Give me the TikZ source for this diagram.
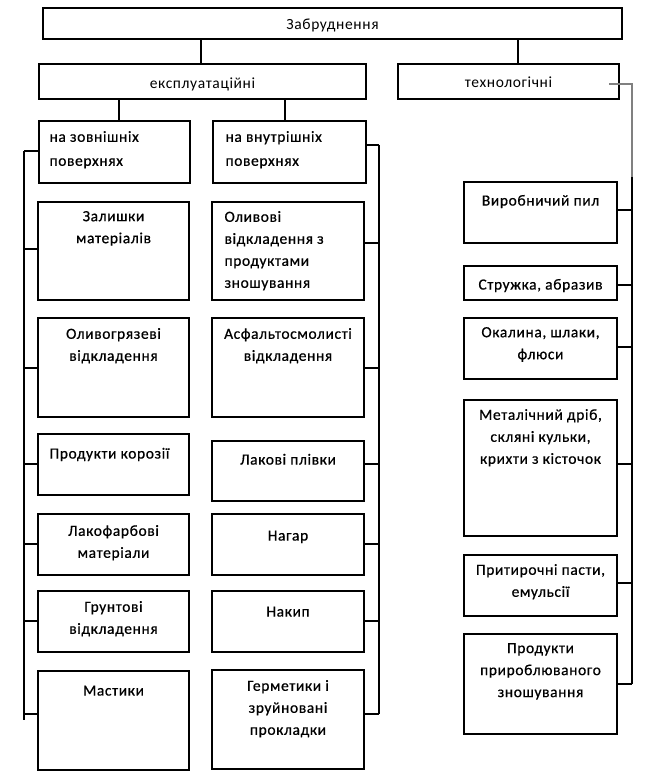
\documentclass[tikz,border=0pt]{standalone}
\usepackage{fontspec}
\setmainfont{Carlito}[LetterSpace=4.0]
\newfontfamily\boxfont{Carlito}[LetterSpace=4.0,FakeBold=0.6]
\newcommand\mkbox[5]{%
  \node[boxst, minimum width={(#4-#2)*1pt}, minimum height={(#5-#3)*1pt}] (#1) at ({(#2+#4)/2},{(#3+#5)/2}) {};}
\newcommand\cbox[7]{\mkbox{#1}{#2}{#3}{#4}{#5}%
  \node[txt, align=center, anchor=north] (#1t) at ({(#2+#4)/2},#6+2) {#7};}
\newcommand\lbox[8]{\mkbox{#1}{#2}{#3}{#4}{#5}%
  \node[txt, align=left, anchor=north west] (#1t) at (#6,#7+2) {#8};}
\newcommand\headbox[7]{\mkbox{#1}{#2}{#3}{#4}{#5}%
  \node[htxt, align=center, anchor=north] (#1t) at ({(#2+#4)/2},#6) {#7};}
\begin{document}
\begin{tikzpicture}[x=1pt,y=-1pt,line width=1.1pt,
  boxst/.style={draw, rectangle, inner sep=0pt, outer sep=0pt},
  txt/.style={inner sep=0pt, font=\boxfont\fontsize{15.5}{22}\selectfont, execute at begin node=\strut},
  htxt/.style={inner sep=0pt, font=\fontsize{15.5}{22}\selectfont, execute at begin node=\strut},
  conn/.style={draw, line width=1.1pt},
  greyconn/.style={draw, line width=1.1pt, color=gray}]
\useasboundingbox (0,0) rectangle (669,775);

\headbox{top}{43}{8}{622}{39}{14.0}{Забруднення}
\headbox{eksp}{39}{64}{366}{99}{72.6}{експлуатаційні}
\headbox{tech}{398}{64}{619}{99}{71.6}{технологічні}

\lbox{zovn}{39}{121}{190}{183}{49}{128.6}{на зовнішніх\\[2pt]поверхнях}
\lbox{vnut}{213}{121}{366}{183}{225}{128.6}{на внутрішніх\\[2pt]поверхнях}

\cbox{zal}{38}{202}{189}{300}{208.6}{Залишки\\матеріалів}
\lbox{oliv}{212}{202}{364}{300}{224}{208.6}{Оливові\\відкладення з\\продуктами\\зношування}
\cbox{olgr}{38}{318}{189}{417}{325.6}{Оливогрязеві\\відкладення}
\cbox{asf}{212}{318}{364}{417}{325.6}{Асфальтосмолисті\\відкладення}
\lbox{koroz}{38}{434}{189}{495}{49}{440.6}{Продукти корозії}
\cbox{lak}{212}{441}{364}{501}{446.6}{Лакові плівки}
\cbox{lakf}{38}{514}{189}{575}{522.6}{Лакофарбові\\матеріали}
\cbox{nagar}{212}{514}{364}{575}{522.6}{Нагар}
\cbox{grunt}{38}{591}{189}{652}{598.6}{Грунтові\\відкладення}
\cbox{nakyp}{212}{591}{364}{652}{598.6}{Накип}
\cbox{mast}{38}{671}{189}{770}{677.6}{Мастики}
\cbox{herm}{212}{670}{364}{769}{677.6}{Герметики і\\зруйновані\\прокладки}

\cbox{pyl}{464}{182}{617}{243}{187.6}{Виробничий пил}
\cbox{struzh}{464}{266}{617}{300}{271.6}{Стружка, абразив}
\cbox{okal}{464}{318}{617}{379}{324.6}{Окалина, шлаки,\\флюси}
\cbox{metal}{464}{400}{617}{536}{406.6}{Металічний дріб,\\скляні кульки,\\крихти з кісточок}
\cbox{pasty}{464}{555}{617}{616}{561.6}{Притирочні пасти,\\емульсії}
\cbox{prirob}{464}{634}{617}{734}{640.6}{Продукти\\прироблюваного\\зношування}

% top connectors
\coordinate (a1) at (201,39);
\coordinate (a2) at (518,39);
\draw[conn] (a1) -- (a1 |- eksp.north);
\draw[conn] (a2) -- (a2 |- tech.north);
\coordinate (b1) at (119,99);
\coordinate (b2) at (285,99);
\draw[conn] (b1) -- (b1 |- zovn.north);
\draw[conn] (b2) -- (b2 |- vnut.north);

% left bus
\coordinate (LB0) at (24,151);
\coordinate (LB1) at (24,720);
\draw[conn] (LB0) -- (LB1);
\foreach \yy/\nn in {151/zovn,249/zal,368/olgr,464/koroz,544/lakf,621/grunt,714/mast}{
  \coordinate (s) at (24,\yy);
  \draw[conn] (s) -- (s -| \nn.west);
}
% right bus
\coordinate (RB0) at (379,145);
\coordinate (RB1) at (379,714);
\draw[conn] (RB0) -- (RB1);
\foreach \yy/\nn in {145/vnut,243/oliv,368/asf,464/lak,544/nagar,621/nakyp,714/herm}{
  \coordinate (s) at (379,\yy);
  \draw[conn] (s) -- (s -| \nn.east);
}
% technological bus
\coordinate (T0) at (609,84);
\coordinate (T1) at (632,84);
\coordinate (T2) at (632,177);
\coordinate (T3) at (632,684);
\draw[greyconn] (T0) -- (T1) -- (T2);
\draw[conn] (T2) -- (T3);
\foreach \yy/\nn in {210/pyl,285/struzh,347/okal,464/metal,583/pasty,684/prirob}{
  \coordinate (s) at (632,\yy);
  \draw[conn] (s) -- (s -| \nn.east);
}
\end{tikzpicture}
\end{document}
